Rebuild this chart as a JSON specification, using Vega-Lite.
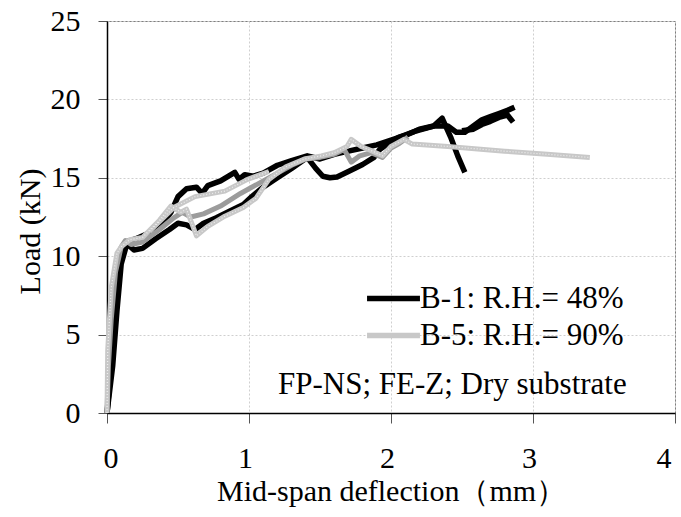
{
  "$schema": "https://vega.github.io/schema/vega-lite/v6.json",
  "width": 568,
  "height": 392,
  "autosize": "none",
  "padding": {"left": 107, "top": 21, "right": 6, "bottom": 104},
  "background": "white",
  "config": {
    "view": {"stroke": "#7f7f7f", "strokeWidth": 1},
    "font": "Liberation Serif",
    "axis": {
      "labelFont": "Liberation Serif",
      "titleFont": "Liberation Serif",
      "labelFontSize": 30,
      "titleFontSize": 30,
      "titleFontWeight": "normal",
      "labelColor": "black",
      "titleColor": "black",
      "gridColor": "#cfcfcf",
      "gridDash": [2, 2],
      "gridWidth": 1,
      "domainColor": "black",
      "domainWidth": 1.5,
      "tickColor": "#555555",
      "tickWidth": 1
    },
    "legend": {
      "orient": "none",
      "legendX": 265,
      "legendY": 256,
      "padding": 0,
      "symbolType": "M-1.43,0H1.43",
      "symbolSize": 1369,
      "symbolStrokeWidth": 5.5,
      "labelFont": "Liberation Serif",
      "labelFontSize": 31,
      "labelColor": "black",
      "labelOffset": 5,
      "rowPadding": 0,
      "labelLimit": 400
    }
  },
  "datasets": {
    "curves": [
      {"c": "A", "s": "B-1: R.H.= 48%", "x": 0, "y": 0},
      {"c": "A", "s": "B-1: R.H.= 48%", "x": 0.03, "y": 3},
      {"c": "A", "s": "B-1: R.H.= 48%", "x": 0.06, "y": 7},
      {"c": "A", "s": "B-1: R.H.= 48%", "x": 0.09, "y": 10},
      {"c": "A", "s": "B-1: R.H.= 48%", "x": 0.13, "y": 10.9},
      {"c": "A", "s": "B-1: R.H.= 48%", "x": 0.2, "y": 11.1},
      {"c": "A", "s": "B-1: R.H.= 48%", "x": 0.3, "y": 11.5},
      {"c": "A", "s": "B-1: R.H.= 48%", "x": 0.4, "y": 12.2},
      {"c": "A", "s": "B-1: R.H.= 48%", "x": 0.45, "y": 12.8},
      {"c": "A", "s": "B-1: R.H.= 48%", "x": 0.5, "y": 13.8},
      {"c": "A", "s": "B-1: R.H.= 48%", "x": 0.56, "y": 14.3},
      {"c": "A", "s": "B-1: R.H.= 48%", "x": 0.63, "y": 14.4},
      {"c": "A", "s": "B-1: R.H.= 48%", "x": 0.67, "y": 14.0},
      {"c": "A", "s": "B-1: R.H.= 48%", "x": 0.71, "y": 14.5},
      {"c": "A", "s": "B-1: R.H.= 48%", "x": 0.8, "y": 14.8},
      {"c": "A", "s": "B-1: R.H.= 48%", "x": 0.9, "y": 15.35},
      {"c": "A", "s": "B-1: R.H.= 48%", "x": 0.93, "y": 14.9},
      {"c": "A", "s": "B-1: R.H.= 48%", "x": 0.97, "y": 15.2},
      {"c": "A", "s": "B-1: R.H.= 48%", "x": 1.03, "y": 15.1},
      {"c": "A", "s": "B-1: R.H.= 48%", "x": 1.1, "y": 15.3},
      {"c": "A", "s": "B-1: R.H.= 48%", "x": 1.2, "y": 15.8},
      {"c": "A", "s": "B-1: R.H.= 48%", "x": 1.3, "y": 16.1},
      {"c": "A", "s": "B-1: R.H.= 48%", "x": 1.41, "y": 16.4},
      {"c": "A", "s": "B-1: R.H.= 48%", "x": 1.5, "y": 16.2},
      {"c": "A", "s": "B-1: R.H.= 48%", "x": 1.6, "y": 16.5},
      {"c": "A", "s": "B-1: R.H.= 48%", "x": 1.7, "y": 16.7},
      {"c": "A", "s": "B-1: R.H.= 48%", "x": 1.8, "y": 16.9},
      {"c": "A", "s": "B-1: R.H.= 48%", "x": 1.9, "y": 17.1},
      {"c": "A", "s": "B-1: R.H.= 48%", "x": 2.0, "y": 17.4},
      {"c": "A", "s": "B-1: R.H.= 48%", "x": 2.1, "y": 17.7},
      {"c": "A", "s": "B-1: R.H.= 48%", "x": 2.2, "y": 18.1},
      {"c": "A", "s": "B-1: R.H.= 48%", "x": 2.3, "y": 18.3},
      {"c": "A", "s": "B-1: R.H.= 48%", "x": 2.36, "y": 18.8},
      {"c": "A", "s": "B-1: R.H.= 48%", "x": 2.42, "y": 17.6},
      {"c": "A", "s": "B-1: R.H.= 48%", "x": 2.47, "y": 16.4},
      {"c": "A", "s": "B-1: R.H.= 48%", "x": 2.52, "y": 15.35},
      {"c": "B", "s": "B-1: R.H.= 48%", "x": 0, "y": 0},
      {"c": "B", "s": "B-1: R.H.= 48%", "x": 0.04, "y": 3},
      {"c": "B", "s": "B-1: R.H.= 48%", "x": 0.07, "y": 6.5},
      {"c": "B", "s": "B-1: R.H.= 48%", "x": 0.1, "y": 9.5},
      {"c": "B", "s": "B-1: R.H.= 48%", "x": 0.14, "y": 10.8},
      {"c": "B", "s": "B-1: R.H.= 48%", "x": 0.19, "y": 10.4},
      {"c": "B", "s": "B-1: R.H.= 48%", "x": 0.25, "y": 10.5},
      {"c": "B", "s": "B-1: R.H.= 48%", "x": 0.34, "y": 11.1},
      {"c": "B", "s": "B-1: R.H.= 48%", "x": 0.44, "y": 11.7},
      {"c": "B", "s": "B-1: R.H.= 48%", "x": 0.5, "y": 12.1},
      {"c": "B", "s": "B-1: R.H.= 48%", "x": 0.56, "y": 12.0},
      {"c": "B", "s": "B-1: R.H.= 48%", "x": 0.62, "y": 11.7},
      {"c": "B", "s": "B-1: R.H.= 48%", "x": 0.68, "y": 12.1},
      {"c": "B", "s": "B-1: R.H.= 48%", "x": 0.77, "y": 12.45},
      {"c": "B", "s": "B-1: R.H.= 48%", "x": 0.87, "y": 12.9},
      {"c": "B", "s": "B-1: R.H.= 48%", "x": 0.96, "y": 13.3},
      {"c": "B", "s": "B-1: R.H.= 48%", "x": 1.02, "y": 13.8},
      {"c": "B", "s": "B-1: R.H.= 48%", "x": 1.1, "y": 14.4},
      {"c": "B", "s": "B-1: R.H.= 48%", "x": 1.2, "y": 15.0},
      {"c": "B", "s": "B-1: R.H.= 48%", "x": 1.3, "y": 15.6},
      {"c": "B", "s": "B-1: R.H.= 48%", "x": 1.41, "y": 16.3},
      {"c": "B", "s": "B-1: R.H.= 48%", "x": 1.47, "y": 15.6},
      {"c": "B", "s": "B-1: R.H.= 48%", "x": 1.52, "y": 15.1},
      {"c": "B", "s": "B-1: R.H.= 48%", "x": 1.57, "y": 15.0},
      {"c": "B", "s": "B-1: R.H.= 48%", "x": 1.62, "y": 15.05},
      {"c": "B", "s": "B-1: R.H.= 48%", "x": 1.7, "y": 15.4},
      {"c": "B", "s": "B-1: R.H.= 48%", "x": 1.8, "y": 15.85},
      {"c": "B", "s": "B-1: R.H.= 48%", "x": 1.88, "y": 16.3},
      {"c": "B", "s": "B-1: R.H.= 48%", "x": 1.92, "y": 16.8},
      {"c": "B", "s": "B-1: R.H.= 48%", "x": 2.0, "y": 17.3},
      {"c": "B", "s": "B-1: R.H.= 48%", "x": 2.06, "y": 17.6},
      {"c": "B", "s": "B-1: R.H.= 48%", "x": 2.18, "y": 18.0},
      {"c": "B", "s": "B-1: R.H.= 48%", "x": 2.3, "y": 18.3},
      {"c": "B", "s": "B-1: R.H.= 48%", "x": 2.4, "y": 18.3},
      {"c": "B", "s": "B-1: R.H.= 48%", "x": 2.46, "y": 17.9},
      {"c": "B", "s": "B-1: R.H.= 48%", "x": 2.52, "y": 17.9},
      {"c": "B", "s": "B-1: R.H.= 48%", "x": 2.58, "y": 18.3},
      {"c": "B", "s": "B-1: R.H.= 48%", "x": 2.64, "y": 18.7},
      {"c": "B", "s": "B-1: R.H.= 48%", "x": 2.7, "y": 18.9},
      {"c": "B", "s": "B-1: R.H.= 48%", "x": 2.76, "y": 19.1},
      {"c": "B", "s": "B-1: R.H.= 48%", "x": 2.82, "y": 19.3},
      {"c": "B", "s": "B-1: R.H.= 48%", "x": 2.87, "y": 19.5},
      {"c": "C", "s": "B-1: R.H.= 48%", "x": 2.5, "y": 18.0},
      {"c": "C", "s": "B-1: R.H.= 48%", "x": 2.58, "y": 18.1},
      {"c": "C", "s": "B-1: R.H.= 48%", "x": 2.64, "y": 18.4},
      {"c": "C", "s": "B-1: R.H.= 48%", "x": 2.7, "y": 18.6},
      {"c": "C", "s": "B-1: R.H.= 48%", "x": 2.76, "y": 18.85},
      {"c": "C", "s": "B-1: R.H.= 48%", "x": 2.82, "y": 19.0},
      {"c": "C", "s": "B-1: R.H.= 48%", "x": 2.86, "y": 18.55},
      {"c": "G", "s": "B-5 (2)", "x": 0, "y": 0},
      {"c": "G", "s": "B-5 (2)", "x": 0.01, "y": 3},
      {"c": "G", "s": "B-5 (2)", "x": 0.03, "y": 6},
      {"c": "G", "s": "B-5 (2)", "x": 0.06, "y": 9},
      {"c": "G", "s": "B-5 (2)", "x": 0.1, "y": 10.6},
      {"c": "G", "s": "B-5 (2)", "x": 0.13, "y": 11.0},
      {"c": "G", "s": "B-5 (2)", "x": 0.17, "y": 10.75},
      {"c": "G", "s": "B-5 (2)", "x": 0.25, "y": 10.9},
      {"c": "G", "s": "B-5 (2)", "x": 0.37, "y": 11.7},
      {"c": "G", "s": "B-5 (2)", "x": 0.47, "y": 12.45},
      {"c": "G", "s": "B-5 (2)", "x": 0.53, "y": 12.8},
      {"c": "G", "s": "B-5 (2)", "x": 0.59, "y": 12.5},
      {"c": "G", "s": "B-5 (2)", "x": 0.68, "y": 12.7},
      {"c": "G", "s": "B-5 (2)", "x": 0.8, "y": 13.2},
      {"c": "G", "s": "B-5 (2)", "x": 0.94, "y": 14.0},
      {"c": "G", "s": "B-5 (2)", "x": 1.06, "y": 14.6},
      {"c": "G", "s": "B-5 (2)", "x": 1.2, "y": 15.3},
      {"c": "G", "s": "B-5 (2)", "x": 1.3, "y": 15.8},
      {"c": "G", "s": "B-5 (2)", "x": 1.4, "y": 16.2},
      {"c": "G", "s": "B-5 (2)", "x": 1.5, "y": 16.3},
      {"c": "G", "s": "B-5 (2)", "x": 1.6, "y": 16.5},
      {"c": "G", "s": "B-5 (2)", "x": 1.67, "y": 16.8},
      {"c": "G", "s": "B-5 (2)", "x": 1.72, "y": 16.0},
      {"c": "G", "s": "B-5 (2)", "x": 1.78, "y": 16.4},
      {"c": "G", "s": "B-5 (2)", "x": 1.86, "y": 16.6},
      {"c": "G", "s": "B-5 (2)", "x": 1.94, "y": 16.3},
      {"c": "G", "s": "B-5 (2)", "x": 2.0, "y": 16.9},
      {"c": "G", "s": "B-5 (2)", "x": 2.06, "y": 17.2},
      {"c": "G", "s": "B-5 (2)", "x": 2.12, "y": 17.6},
      {"c": "L1", "s": "B-5: R.H.= 90%", "x": 0, "y": 0},
      {"c": "L1", "s": "B-5: R.H.= 90%", "x": 0.005, "y": 4},
      {"c": "L1", "s": "B-5: R.H.= 90%", "x": 0.03, "y": 8},
      {"c": "L1", "s": "B-5: R.H.= 90%", "x": 0.07, "y": 10.2},
      {"c": "L1", "s": "B-5: R.H.= 90%", "x": 0.1, "y": 10.6},
      {"c": "L1", "s": "B-5: R.H.= 90%", "x": 0.16, "y": 11.05},
      {"c": "L1", "s": "B-5: R.H.= 90%", "x": 0.25, "y": 11.2},
      {"c": "L1", "s": "B-5: R.H.= 90%", "x": 0.37, "y": 12.3},
      {"c": "L1", "s": "B-5: R.H.= 90%", "x": 0.45, "y": 13.2},
      {"c": "L1", "s": "B-5: R.H.= 90%", "x": 0.52, "y": 12.8},
      {"c": "L1", "s": "B-5: R.H.= 90%", "x": 0.56, "y": 13.0},
      {"c": "L1", "s": "B-5: R.H.= 90%", "x": 0.63, "y": 11.3},
      {"c": "L1", "s": "B-5: R.H.= 90%", "x": 0.71, "y": 11.9},
      {"c": "L1", "s": "B-5: R.H.= 90%", "x": 0.83, "y": 12.55},
      {"c": "L1", "s": "B-5: R.H.= 90%", "x": 0.96, "y": 13.1},
      {"c": "L1", "s": "B-5: R.H.= 90%", "x": 1.05, "y": 13.7},
      {"c": "L1", "s": "B-5: R.H.= 90%", "x": 1.14, "y": 14.9},
      {"c": "L1", "s": "B-5: R.H.= 90%", "x": 1.26, "y": 15.7},
      {"c": "L1", "s": "B-5: R.H.= 90%", "x": 1.39, "y": 16.2},
      {"c": "L1", "s": "B-5: R.H.= 90%", "x": 1.51, "y": 16.4},
      {"c": "L1", "s": "B-5: R.H.= 90%", "x": 1.6, "y": 16.6},
      {"c": "L1", "s": "B-5: R.H.= 90%", "x": 1.69, "y": 17.0},
      {"c": "L1", "s": "B-5: R.H.= 90%", "x": 1.72, "y": 17.45},
      {"c": "L1", "s": "B-5: R.H.= 90%", "x": 1.79, "y": 17.0},
      {"c": "L1", "s": "B-5: R.H.= 90%", "x": 1.87, "y": 16.7},
      {"c": "L1", "s": "B-5: R.H.= 90%", "x": 1.94, "y": 16.4},
      {"c": "L1", "s": "B-5: R.H.= 90%", "x": 2.0, "y": 17.0},
      {"c": "L1", "s": "B-5: R.H.= 90%", "x": 2.09, "y": 17.45},
      {"c": "L1", "s": "B-5: R.H.= 90%", "x": 2.15, "y": 17.15},
      {"c": "L1", "s": "B-5: R.H.= 90%", "x": 2.4, "y": 17.0},
      {"c": "L1", "s": "B-5: R.H.= 90%", "x": 2.8, "y": 16.7},
      {"c": "L1", "s": "B-5: R.H.= 90%", "x": 3.1, "y": 16.5},
      {"c": "L1", "s": "B-5: R.H.= 90%", "x": 3.4, "y": 16.3},
      {"c": "L2", "s": "B-5: R.H.= 90%", "x": 0.3, "y": 11.6},
      {"c": "L2", "s": "B-5: R.H.= 90%", "x": 0.47, "y": 13.1},
      {"c": "L2", "s": "B-5: R.H.= 90%", "x": 0.62, "y": 13.8},
      {"c": "L2", "s": "B-5: R.H.= 90%", "x": 0.83, "y": 14.15},
      {"c": "L2", "s": "B-5: R.H.= 90%", "x": 0.99, "y": 14.9},
      {"c": "L2", "s": "B-5: R.H.= 90%", "x": 1.14, "y": 15.4}
    ],
    "notes": [
      {"x": 3.66, "y": 1.8, "t": "FP-NS; FE-Z; Dry substrate"}
    ]
  },
  "layer": [
    {
      "data": {"name": "curves"},
      "transform": [{"filter": "datum.c === 'A' || datum.c === 'B' || datum.c === 'C'"}],
      "mark": {"type": "line", "strokeWidth": 5.5, "strokeJoin": "round"},
      "encoding": {
        "x": {
          "field": "x", "type": "quantitative",
          "scale": {"domain": [0, 4], "nice": false},
          "axis": {
            "values": [0, 1, 2, 3, 4],
            "format": "d",
            "title": "Mid-span deflection（mm）",
            "tickSize": 10,
            "labelPadding": 20,
            "labelOffset": -4,
            "titlePadding": 3,
            "grid": true
          }
        },
        "y": {
          "field": "y", "type": "quantitative",
          "scale": {"domain": [0, 25], "nice": false},
          "axis": {
            "values": [0, 5, 10, 15, 20, 25],
            "format": "d",
            "title": "Load (kN)",
            "tickSize": 9,
            "labelPadding": 18,
            "titlePadding": 5,
            "titleY": 210,
            "grid": true
          }
        },
        "detail": {"field": "c"},
        "color": {
          "field": "s", "type": "nominal",
          "scale": {"domain": ["B-1: R.H.= 48%", "B-5: R.H.= 90%"], "range": ["#000000", "#c8c8c8"]},
          "legend": {"title": null}
        }
      }
    },
    {
      "data": {"name": "curves"},
      "transform": [{"filter": "datum.c === 'G'"}],
      "mark": {"type": "line", "strokeWidth": 5, "color": "#9c9c9c", "strokeJoin": "round"},
      "encoding": {
        "x": {"field": "x", "type": "quantitative"},
        "y": {"field": "y", "type": "quantitative"},
        "detail": {"field": "c"}
      }
    },
    {
      "data": {"name": "curves"},
      "transform": [{"filter": "datum.c === 'L1' || datum.c === 'L2'"}],
      "mark": {"type": "line", "strokeWidth": 5, "strokeJoin": "round"},
      "encoding": {
        "x": {"field": "x", "type": "quantitative"},
        "y": {"field": "y", "type": "quantitative"},
        "detail": {"field": "c"},
        "color": {"field": "s", "type": "nominal", "legend": {"title": null}}
      }
    },
    {
      "data": {"name": "curves"},
      "transform": [{"filter": "datum.c === 'L1' || datum.c === 'L2'"}],
      "mark": {"type": "line", "strokeWidth": 1.2, "color": "#eeeeee", "strokeDash": [1, 2]},
      "encoding": {
        "x": {"field": "x", "type": "quantitative"},
        "y": {"field": "y", "type": "quantitative"},
        "detail": {"field": "c"}
      }
    },
    {
      "data": {"name": "notes"},
      "mark": {"type": "text", "align": "right", "baseline": "middle", "font": "Liberation Serif", "fontSize": 31, "color": "black"},
      "encoding": {
        "x": {"field": "x", "type": "quantitative"},
        "y": {"field": "y", "type": "quantitative"},
        "text": {"field": "t"}
      }
    }
  ]
}
